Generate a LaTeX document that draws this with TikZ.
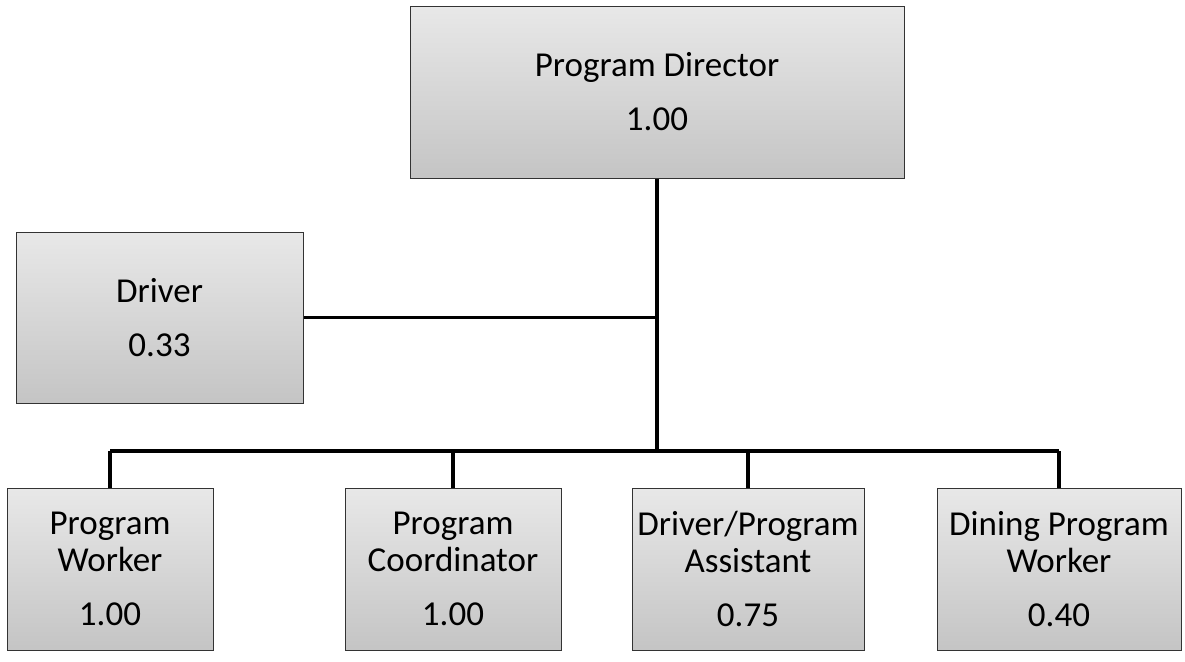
\documentclass[tikz,border=0pt]{standalone}
\usepackage{fontspec}
\setmainfont{Carlito}
\usetikzlibrary{positioning,calc}

\begin{document}
\begin{tikzpicture}[x=0.5pt,y=-0.5pt,
  font=\fontsize{17.5pt}{18.5pt}\selectfont,
  post/.style={draw=black!80,line width=0.5pt,top color=gray!18,bottom color=gray!46,
    align=center,inner sep=0pt,minimum height=81pt},
  ln/.style={line width=1.7pt,black}]
\useasboundingbox (0,0) rectangle (1185,661);
% top row
\node[post,minimum width=247pt,minimum height=86pt] (dir) at (657,92) {Program Director\\[8.5pt]1.00};
\node[post,minimum width=143.5pt,minimum height=85.5pt] (drv) at (159.5,317.5) {Driver\\[8.5pt]0.33};
% bottom row
\node[post,minimum width=103pt] (pw) at (110,569) {Program\\Worker\\[8.5pt]1.00};
\node[post,minimum width=108pt] (pc) at (453,569) {Program\\Coordinator\\[8.5pt]1.00};
\node[post,minimum width=116pt] (dpa) at (748,569) {Driver/Program\\Assistant\\[8.5pt]0.75};
\node[post,minimum width=122pt] (dpw) at (1059,569) {Dining Program\\Worker\\[8.5pt]0.40};
% connectors
\coordinate (mid) at (dir.south |- drv.east);
\coordinate (bus) at (dir.south |- 0,451);
\draw[ln] (dir.south)--(bus);
\draw[ln] (drv.east)--(mid);
\draw[ln] (pw.north |- bus)--(dpw.north |- bus);
\foreach \b in {pw,pc,dpa,dpw} \draw[ln] (\b.north |- bus)--(\b.north);
\end{tikzpicture}
\end{document}
